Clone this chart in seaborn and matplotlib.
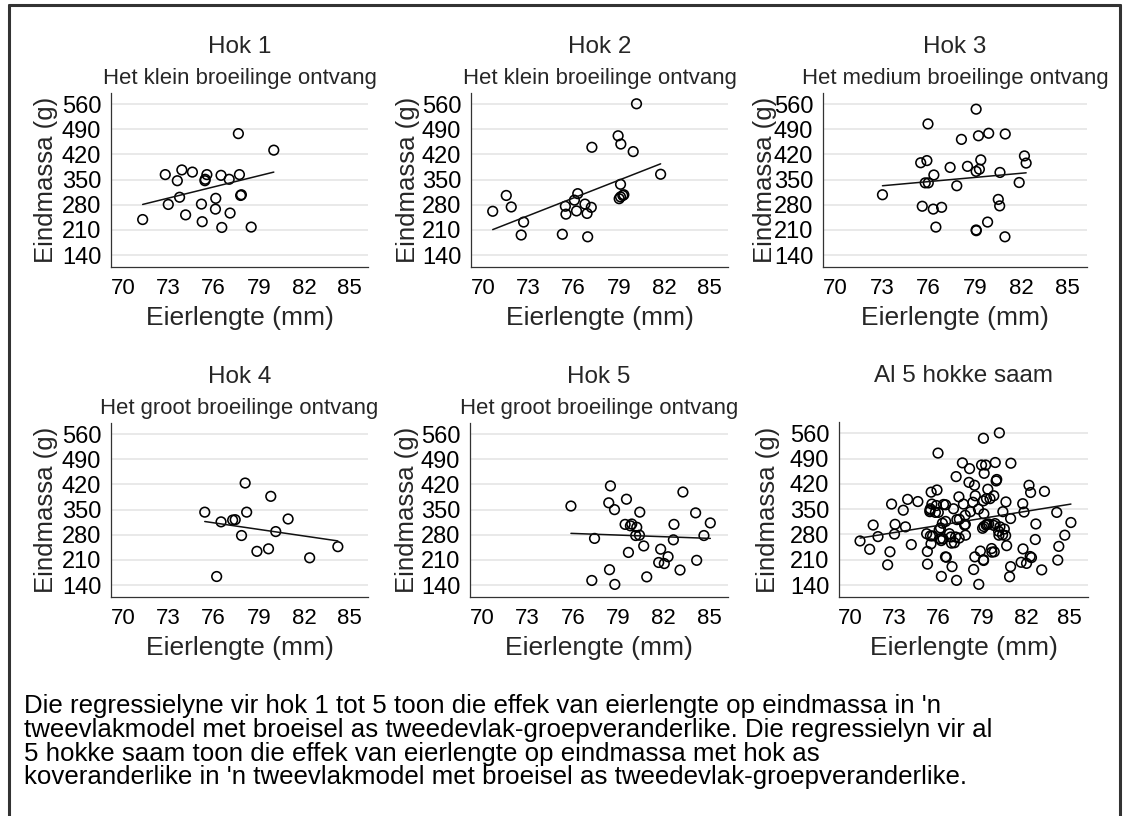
import numpy as np
import pandas as pd
import matplotlib
matplotlib.use("Agg")
import matplotlib.pyplot as plt
import seaborn as sns
from matplotlib.lines import Line2D

# ---------------- data ----------------
hok1_x = [71.3, 72.8, 73.0, 73.9, 73.6, 73.75, 74.15, 74.6, 75.2, 75.25, 75.43, 75.45,
          75.56, 76.15, 76.13, 76.5, 76.55, 77.04, 77.1, 77.65, 77.72, 77.8, 77.85, 78.5, 80.0]
hok1_y = [239, 364, 281, 377, 347, 301, 252, 371, 282, 233, 347, 351,
          364, 298, 268, 362, 217, 351, 257, 478, 364, 306, 308, 218, 432]

hok2_x = [70.64, 71.54, 71.87, 72.69, 72.53, 75.26, 75.46, 75.5, 76.06, 76.28, 76.2, 76.76, 76.9,
          77.18, 76.94, 77.22, 78.96, 79.14, 79.12, 79.03, 79.12, 79.27, 79.34, 79.96, 80.18, 81.78]
hok2_y = [262, 306, 274, 232, 196, 198, 276, 254, 293, 311, 263, 282, 256,
          273, 191, 440, 472, 449, 337, 297, 302, 306, 308, 428, 561, 365]

hok3_x = [73.04, 75.61, 75.51, 75.91, 75.98, 75.8, 76.0, 76.36, 76.32, 76.86, 76.49,
          77.41, 77.84, 78.14, 78.53, 79.09, 79.24, 79.09, 79.3, 79.39, 79.09, 79.1,
          79.83, 79.9, 80.63, 80.52, 80.61, 80.97, 80.95, 81.87, 82.21, 82.32]
hok3_y = [308, 276, 397, 403, 505, 341, 341, 363, 268, 273, 218,
          384, 333, 462, 387, 546, 472, 373, 379, 405, 210, 208,
          232, 479, 370, 295, 277, 477, 191, 342, 416, 396]

hok4_x = [75.42, 76.21, 76.5, 77.27, 77.44, 77.86, 78.1, 78.2, 78.88, 79.65,
          79.8, 80.13, 80.95, 82.38, 84.25]
hok4_y = [343, 164, 316, 321, 322, 278, 424, 343, 234, 241,
          387, 289, 324, 216, 247]

hok5_x = [75.87, 77.43, 77.25, 78.37, 78.48, 78.75, 78.42, 78.77, 79.54, 79.45, 79.67,
          79.8, 79.89, 80.22, 80.15, 80.4, 80.42, 80.68, 80.88, 81.8, 81.67, 82.04,
          82.29, 82.64, 82.68, 83.08, 83.27, 84.11, 84.18, 84.66, 85.08]
hok5_y = [360, 270, 153, 369, 416, 350, 183, 142, 379, 309, 231,
          305, 310, 301, 278, 279, 343, 249, 163, 240, 203, 200,
          219, 266, 309, 182, 399, 341, 209, 278, 313]

# fitted values of the two-level model at the smallest / largest egg length
fit_start = [281, 211, 333, 317, 284, 270]
fit_end = [371, 394, 369, 263, 270, 364]

titles = ["Hok 1", "Hok 2", "Hok 3", "Hok 4", "Hok 5", "Al 5 hokke saam"]
subtitles = ["Het klein broeilinge ontvang", "Het klein broeilinge ontvang",
             "Het medium broeilinge ontvang", "Het groot broeilinge ontvang",
             "Het groot broeilinge ontvang", ""]
x_ticks = [70, 73, 76, 79, 82, 85]
y_ticks = [140, 210, 280, 350, 420, 490, 560]
x_label = "Eierlengte (mm)"
y_label = "Eindmassa (g)"
caption = ["Die regressielyne vir hok 1 tot 5 toon die effek van eierlengte op eindmassa in 'n",
           "tweevlakmodel met broeisel as tweedevlak-groepveranderlike. Die regressielyn vir al",
           "5 hokke saam toon die effek van eierlengte op eindmassa met hok as",
           "koveranderlike in 'n tweevlakmodel met broeisel as tweedevlak-groepveranderlike."]

# ---------------- styling ----------------
sns.set_theme(style="white")
plt.rcParams["font.family"] = ["Liberation Sans", "DejaVu Sans"]

W, H = 1126, 816
fig = plt.figure(figsize=(W / 100, H / 100), dpi=100)
fig.patch.set_facecolor("white")

def rect(left, top, w, h):
    return [left / W, 1 - (top + h) / H, w / W, h / H]

# (left, top, width, height) in pixels, and y-label offset in pixels
layout = [
    ((111, 93, 257, 174), 65),
    ((471, 93, 257, 174), 63),
    ((823, 93, 264, 174), 58),
    ((111, 423, 257, 174), 65),
    ((470, 423, 258, 174), 63),
    ((839, 422, 249, 175), 71),
]

xs = [hok1_x, hok2_x, hok3_x, hok4_x, hok5_x]
ys = [hok1_y, hok2_y, hok3_y, hok4_y, hok5_y]
xs.append(sum(xs, []))
ys.append(sum(ys, []))

for i in range(6):
    (l, t, w, h), yoff = layout[i]
    ax = fig.add_axes(rect(l, t, w, h))
    ax.set_facecolor("white")
    df = pd.DataFrame({"x": xs[i], "y": ys[i]})
    for yt in y_ticks:
        ax.axhline(yt, color="#e5e5e5", lw=1.2, zorder=0)
    sns.scatterplot(data=df, x="x", y="y", ax=ax, marker="o", s=48,
                    facecolor="none", edgecolor="black", linewidth=1.15, zorder=3)
    fit = pd.DataFrame({"x": [min(xs[i]), max(xs[i])], "y": [fit_start[i], fit_end[i]]})
    sns.lineplot(data=fit, x="x", y="y", ax=ax, color="#111111", lw=1.1, zorder=4)

    ax.set_xlim(69.2, 86.25)
    ax.set_ylim(107, 591)
    ax.set_xticks(x_ticks)
    ax.set_yticks(y_ticks)
    ax.set_xticklabels([str(v) for v in x_ticks], fontsize=16)
    ax.set_yticklabels([str(v) for v in y_ticks], fontsize=17)
    ax.tick_params(axis="both", direction="out", length=5, width=0.8,
                   color="#333333", pad=2, labelcolor="black")
    ax.tick_params(axis="x", pad=3)
    for s in ["top", "right"]:
        ax.spines[s].set_visible(False)
    for s in ["left", "bottom"]:
        ax.spines[s].set_color("#333333")
        ax.spines[s].set_linewidth(0.9)

    ax.set_xlabel(x_label, fontsize=19, va="baseline")
    ax.xaxis.set_label_coords(0.5, -58 / h)
    ax.set_ylabel(y_label, fontsize=18.5, va="center")
    ax.yaxis.set_label_coords(-yoff / w, 0.5)

    ax.text(0.5, 1 + 39.5 / h, titles[i], transform=ax.transAxes,
            ha="center", va="baseline", fontsize=17.5)
    if subtitles[i]:
        ax.text(0.5, 1 + 8.5 / h, subtitles[i], transform=ax.transAxes,
                ha="center", va="baseline", fontsize=15.9)

# caption: one multi-line text block, tight line spacing as in the reference
fig.text(24.5 / W, 1 - 694 / H, "\n".join(caption), ha="left", va="top",
         fontsize=18.6, color="black", linespacing=0.99)

# outer frame (left, top, right)
frame_kw = dict(color="#333333", lw=2.2, transform=fig.transFigure)
fig.add_artist(Line2D([9 / W, 9 / W], [0, 1 - 5 / H], **frame_kw))
fig.add_artist(Line2D([9 / W, 1120 / W], [1 - 5 / H, 1 - 5 / H], **frame_kw))
fig.add_artist(Line2D([1120 / W, 1120 / W], [0, 1 - 5 / H], **frame_kw))

fig.savefig("out.png", dpi=100, facecolor="white")
